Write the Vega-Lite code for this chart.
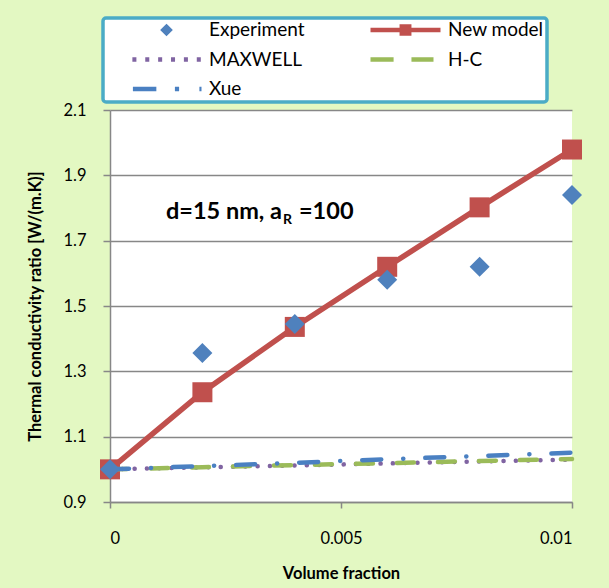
{
  "$schema": "https://vega.github.io/schema/vega-lite/v6.json",
  "width": 462,
  "height": 392,
  "autosize": {"type": "none"},
  "padding": {"left": 110, "top": 110, "right": 37, "bottom": 86},
  "background": "#e3f8c2",
  "config": {
    "view": {"fill": "white", "stroke": null},
    "font": "Lato",
    "legend": {"strokeWidth": 3.5},
    "axis": {
      "labelFont": "Lato",
      "labelFontSize": 16.5,
      "labelColor": "#000000",
      "titleFont": "Lato",
      "titleFontSize": 16.5,
      "titleFontWeight": "bold",
      "titleColor": "#000000",
      "domainColor": "#878787",
      "domainWidth": 1.5,
      "tickColor": "#878787",
      "tickWidth": 1.5,
      "gridColor": "#878787",
      "gridWidth": 1.5
    }
  },
  "datasets": {
    "pts": [
      {"series": "Experiment", "x": 0, "y": 1.0},
      {"series": "Experiment", "x": 0.002, "y": 1.356},
      {"series": "Experiment", "x": 0.004, "y": 1.445},
      {"series": "Experiment", "x": 0.006, "y": 1.58},
      {"series": "Experiment", "x": 0.008, "y": 1.62},
      {"series": "Experiment", "x": 0.01, "y": 1.84},
      {"series": "New model", "x": 0, "y": 1.0},
      {"series": "New model", "x": 0.002, "y": 1.236},
      {"series": "New model", "x": 0.004, "y": 1.436},
      {"series": "New model", "x": 0.006, "y": 1.62},
      {"series": "New model", "x": 0.008, "y": 1.802},
      {"series": "New model", "x": 0.01, "y": 1.979},
      {"series": "MAXWELL", "x": 0, "y": 1.0},
      {"series": "MAXWELL", "x": 0.002, "y": 1.006},
      {"series": "MAXWELL", "x": 0.004, "y": 1.012},
      {"series": "MAXWELL", "x": 0.006, "y": 1.018},
      {"series": "MAXWELL", "x": 0.008, "y": 1.024},
      {"series": "MAXWELL", "x": 0.01, "y": 1.03},
      {"series": "H-C", "x": 0, "y": 1.0},
      {"series": "H-C", "x": 0.002, "y": 1.0065},
      {"series": "H-C", "x": 0.004, "y": 1.013},
      {"series": "H-C", "x": 0.006, "y": 1.019},
      {"series": "H-C", "x": 0.008, "y": 1.0255},
      {"series": "H-C", "x": 0.01, "y": 1.032},
      {"series": "Xue", "x": 0, "y": 1.0},
      {"series": "Xue", "x": 0.002, "y": 1.01},
      {"series": "Xue", "x": 0.004, "y": 1.02},
      {"series": "Xue", "x": 0.006, "y": 1.031},
      {"series": "Xue", "x": 0.008, "y": 1.041},
      {"series": "Xue", "x": 0.01, "y": 1.051}
    ],
    "note": [{"a": "d=15 nm, a", "b": "R", "c": "=100"}]
  },
  "layer": [
    {
      "data": {"name": "pts"},
      "transform": [{"filter": "datum.series === 'New model'"}],
      "mark": {"type": "line", "strokeWidth": 5.5},
      "encoding": {
        "x": {
          "field": "x",
          "type": "quantitative",
          "scale": {"domain": [0, 0.01], "nice": false, "zero": false},
          "axis": {
            "title": "Volume fraction",
            "values": [0, 0.005, 0.01],
            "format": "~g",
            "grid": false,
            "tickSize": 6,
            "labelPadding": 22,
            "titlePadding": 19
          }
        },
        "y": {
          "field": "y",
          "type": "quantitative",
          "scale": {"domain": [0.9, 2.1], "nice": false, "zero": false},
          "axis": {
            "title": "Thermal conductivity ratio [W/(m.K)]",
            "values": [0.9, 1.1, 1.3, 1.5, 1.7, 1.9, 2.1],
            "format": ".1f",
            "grid": true,
            "tickSize": 7,
            "labelPadding": 17,
            "titlePadding": 19
          }
        },
        "color": {
          "field": "series",
          "type": "nominal",
          "scale": {
            "domain": ["Experiment", "New model", "MAXWELL", "H-C", "Xue"],
            "range": ["#4f81bd", "#c0504d", "#8064a2", "#9bbb59", "#4a80c2"]
          },
          "legend": {
            "title": null,
            "orient": "none",
            "direction": "horizontal",
            "legendX": -7,
            "legendY": -92,
            "columns": 2,
            "columnPadding": 40,
            "rowPadding": 10.5,
            "clipHeight": 18,
            "padding": 3,
            "symbolOffset": 23,
            "labelOffset": 5,
            "labelExpr": "datum.value === 'New model' ? datum.label + '\u00a0\u00a0\u00a0\u00a0\u00a0\u00a0\u00a0\u00a0' : datum.label",
            "labelFont": "Lato",
            "labelFontSize": 19,
            "labelColor": "#000000",
            "symbolSize": 4900,
            "symbolStrokeWidth": 4.5,
            "fillColor": "white",
            "strokeColor": "#4bacc6",
            "cornerRadius": 3
          }
        }
      }
    },
    {
      "data": {"name": "pts"},
      "transform": [{"filter": "datum.series === 'New model'"}],
      "mark": {"type": "point", "shape": "square", "filled": true, "size": 400, "opacity": 1, "strokeWidth": 0},
      "encoding": {
        "x": {"field": "x", "type": "quantitative"},
        "y": {"field": "y", "type": "quantitative"},
        "color": {"field": "series", "type": "nominal", "legend": null}
      }
    },
    {
      "data": {"name": "pts"},
      "transform": [{"filter": "datum.series === 'MAXWELL'"}],
      "mark": {"type": "line", "strokeWidth": 4.5, "strokeCap": "round", "strokeDash": [0.1, 12.2]},
      "encoding": {
        "x": {"field": "x", "type": "quantitative"},
        "y": {"field": "y", "type": "quantitative"},
        "color": {"field": "series", "type": "nominal", "legend": null}
      }
    },
    {
      "data": {"name": "pts"},
      "transform": [{"filter": "datum.series === 'H-C'"}],
      "mark": {"type": "line", "strokeWidth": 4.5, "strokeCap": "round", "strokeDash": [17, 24]},
      "encoding": {
        "x": {"field": "x", "type": "quantitative"},
        "y": {"field": "y", "type": "quantitative"},
        "color": {"field": "series", "type": "nominal", "legend": null}
      }
    },
    {
      "data": {"name": "pts"},
      "transform": [{"filter": "datum.series === 'Xue'"}],
      "mark": {"type": "line", "strokeWidth": 4.5, "strokeCap": "round", "strokeDash": [19, 22, 0.1, 22]},
      "encoding": {
        "x": {"field": "x", "type": "quantitative"},
        "y": {"field": "y", "type": "quantitative"},
        "color": {"field": "series", "type": "nominal", "legend": null}
      }
    },
    {
      "data": {"name": "pts"},
      "transform": [{"filter": "datum.series === 'Experiment'"}],
      "mark": {"type": "point", "filled": true, "size": 49400, "opacity": 1, "strokeWidth": 0},
      "encoding": {
        "x": {"field": "x", "type": "quantitative"},
        "y": {"field": "y", "type": "quantitative"},
        "color": {"field": "series", "type": "nominal", "legend": null},
        "shape": {
          "field": "series",
          "type": "nominal",
          "scale": {
            "domain": ["Experiment", "New model", "MAXWELL", "H-C", "Xue"],
            "range": [
              "M0,-0.09L0.09,0L0,0.09L-0.09,0Z",
              "M-1,0L1,0M-0.17,-0.1L0.17,-0.1M-0.17,0.1L0.17,0.1",
              "M-0.975,0L-0.86,0M-0.607,0L-0.492,0M-0.239,0L-0.124,0M0.129,0L0.244,0M0.497,0L0.612,0M0.865,0L0.98,0",
              "M-1,0L-0.34,0M0.17,0L0.8,0",
              "M-0.96,0L-0.29,0M0.24,0L0.36,0M0.94,0L1,0"
            ]
          }
        }
      }
    },
    {
      "data": {"name": "note"},
      "mark": {"type": "text", "align": "left", "baseline": "middle", "font": "Lato", "fontSize": 23.5, "fontWeight": "bold", "color": "#000000"},
      "encoding": {
        "x": {"datum": 0.001212, "type": "quantitative"},
        "y": {"datum": 1.788, "type": "quantitative"},
        "text": {"field": "a"}
      }
    },
    {
      "data": {"name": "note"},
      "mark": {"type": "text", "align": "left", "baseline": "middle", "font": "Lato", "fontSize": 14, "fontWeight": "bold", "dx": 117, "dy": 8, "color": "#000000"},
      "encoding": {
        "x": {"datum": 0.001212, "type": "quantitative"},
        "y": {"datum": 1.788, "type": "quantitative"},
        "text": {"field": "b"}
      }
    },
    {
      "data": {"name": "note"},
      "mark": {"type": "text", "align": "left", "baseline": "middle", "font": "Lato", "fontSize": 23.5, "fontWeight": "bold", "dx": 133, "color": "#000000"},
      "encoding": {
        "x": {"datum": 0.001212, "type": "quantitative"},
        "y": {"datum": 1.788, "type": "quantitative"},
        "text": {"field": "c"}
      }
    }
  ]
}
